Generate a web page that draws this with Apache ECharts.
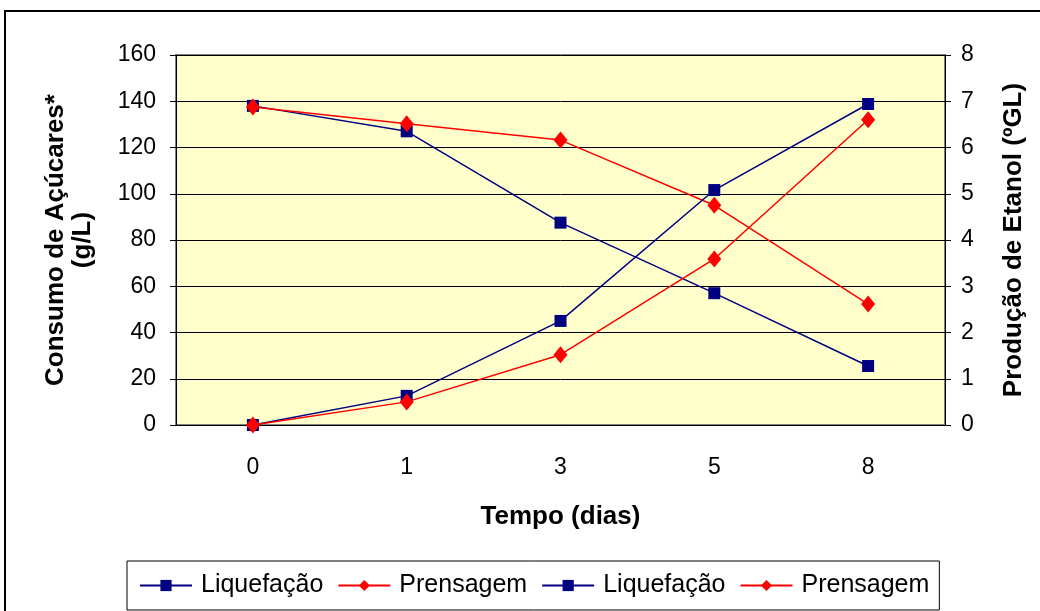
<!DOCTYPE html>
<html>
<head>
<meta charset="utf-8">
<script src="https://cdn.jsdelivr.net/npm/echarts@6/dist/echarts.min.js"></script>
<style>
  html, body { margin: 0; padding: 0; background: #fff; }
  #chart { width: 1040px; height: 611px; }
</style>
</head>
<body>
<div id="chart"></div>
<script>
// dias
const categories = ['0', '1', '3', '5', '8'];
// consumo de açúcares (g/L) - eixo esquerdo
const liqAcucar = [138, 127, 87.5, 57, 25.5];
const prenAcucar = [137.5, 130.3, 123.2, 95, 52.3];
// produção de etanol (ºGL) - eixo direito
const liqEtanol = [0, 0.63, 2.25, 5.08, 6.94];
const prenEtanol = [0, 0.5, 1.52, 3.59, 6.6];

const font = 'Liberation Sans, Arial, sans-serif';
const navy = '#000080';
const red = '#ff0000';

const chart = echarts.init(document.getElementById('chart'));

function serie(name, data, axis, color, symbol, size) {
  return {
    name: name,
    type: 'line',
    yAxisIndex: axis,
    data: data,
    symbol: symbol,
    symbolSize: size,
    showAllSymbol: true,
    lineStyle: { color: color, width: 1.5 },
    itemStyle: { color: color },
    emphasis: { disabled: true },
    animation: false
  };
}

chart.setOption({
  backgroundColor: '#fff',
  animation: false,
  graphic: [{
    type: 'rect',
    shape: { x: 5, y: 11, width: 1100, height: 700 },
    style: { fill: 'none', stroke: '#000', lineWidth: 2 },
    silent: true
  }],
  grid: {
    left: 176, right: 95, top: 55, bottom: 186,
    show: true,
    backgroundColor: '#ffffcc',
    borderColor: '#808080',
    borderWidth: 2
  },
  legend: {
    left: 127, top: 561,
    width: 820,
    padding: [12, 10, 12, 12],
    borderColor: '#000',
    borderWidth: 1,
    itemWidth: 52,
    itemHeight: 14,
    itemGap: 14,
    formatter: n => n.trim(),
    textStyle: { fontFamily: font, fontSize: 25, color: '#000', padding: [0, 0, 0, 4] }
  },
  xAxis: {
    type: 'category',
    data: categories,
    boundaryGap: true,
    name: 'Tempo (dias)',
    nameLocation: 'middle',
    nameGap: 79,
    nameTextStyle: { fontFamily: font, fontSize: 26, fontWeight: 'bold', color: '#000' },
    axisLine: { lineStyle: { color: '#000', width: 1 } },
    axisTick: { length: 8, lineStyle: { color: '#000' } },
    axisLabel: { fontFamily: font, fontSize: 23, color: '#000', margin: 31 },
    splitLine: { show: false }
  },
  yAxis: [{
    type: 'value',
    min: 0, max: 160, interval: 20,
    name: 'Consumo de Açúcares*\n(g/L)',
    nameLocation: 'middle',
    nameRotate: 90,
    nameGap: 80,
    nameTextStyle: { fontFamily: font, fontSize: 26, fontWeight: 'bold', color: '#000', lineHeight: 27 },
    axisLine: { show: true, lineStyle: { color: '#000', width: 1 } },
    axisTick: { show: true, length: 6, lineStyle: { color: '#000' } },
    axisLabel: { fontFamily: font, fontSize: 23, color: '#000', margin: 20 },
    splitLine: { lineStyle: { color: '#000', width: 1 } }
  }, {
    type: 'value',
    position: 'right',
    min: 0, max: 8, interval: 1,
    name: 'Produção de Etanol (ºGL)',
    nameLocation: 'middle',
    nameRotate: 90,
    nameGap: 56,
    nameTextStyle: { fontFamily: font, fontSize: 26, fontWeight: 'bold', color: '#000' },
    axisLine: { show: true, lineStyle: { color: '#000', width: 1 } },
    axisTick: { show: true, length: 6, lineStyle: { color: '#000' } },
    axisLabel: { fontFamily: font, fontSize: 23, color: '#000', margin: 16 },
    splitLine: { show: false }
  }],
  series: [
    serie('Liquefação', liqAcucar, 0, navy, 'rect', 12),
    serie('Prensagem', prenAcucar, 0, red, 'diamond', [14, 17]),
    serie('Liquefação ', liqEtanol, 1, navy, 'rect', 12),
    serie('Prensagem ', prenEtanol, 1, red, 'diamond', [14, 17])
  ]
});
</script>
</body>
</html>
